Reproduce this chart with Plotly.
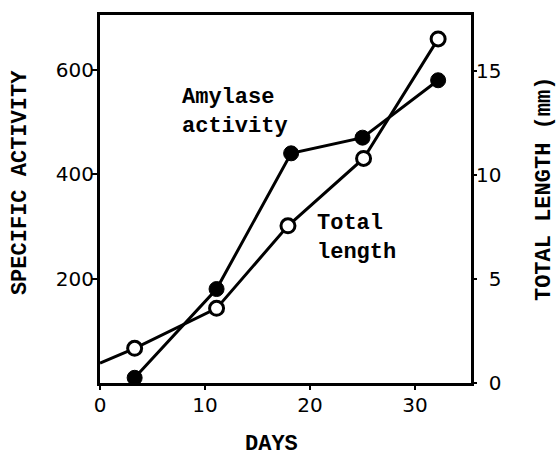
import plotly.graph_objects as go

# Data
amylase_days = [3.3, 11.1, 18.2, 25.0, 32.2]
amylase_activity = [10, 180, 440, 470, 580]          # specific activity (left axis)

length_days = [0, 3.3, 11.1, 17.9, 25.1, 32.2]       # first point: line start at axis
total_length = [0.96, 1.67, 3.59, 7.56, 10.8, 16.55]  # mm (right axis)
length_marker_visible = [0, 1, 1, 1, 1, 1]

x_ticks = [0, 10, 20, 30]
left_ticks = [200, 400, 600]
right_ticks = [0, 5, 10, 15]
right_ticktext = ["\u20070", "\u20075", "10", "15"]

TXT = dict(family="Liberation Mono, Courier New, monospace", size=22, color="black")
NUM = dict(family="DejaVu Sans, sans-serif", size=20, color="black")

fig = go.Figure()

fig.add_trace(go.Scatter(
    x=length_days, y=total_length, yaxis="y2", mode="lines+markers",
    line=dict(color="black", width=3),
    marker=dict(size=14, color="white", opacity=length_marker_visible,
                line=dict(color="black", width=3)),
    showlegend=False, cliponaxis=False,
))
fig.add_trace(go.Scatter(
    x=amylase_days, y=amylase_activity, mode="lines+markers",
    line=dict(color="black", width=3),
    marker=dict(size=15, color="black", line=dict(color="black", width=1)),
    showlegend=False, cliponaxis=False,
))

fig.update_layout(
    width=557, height=456,
    margin=dict(l=100, r=86, t=13, b=73),
    paper_bgcolor="white", plot_bgcolor="white",
    xaxis=dict(range=[0, 35.33], tickvals=x_ticks, ticks="outside", ticklen=4,
               tickwidth=2, tickcolor="black", showline=True, linewidth=3,
               linecolor="black", mirror=True, showgrid=False, zeroline=False,
               tickfont=NUM, ticklabelstandoff=-2),
    xaxis2=dict(range=[0, 35.33], overlaying="x", side="top", tickvals=[10, 20, 30],
                ticks="inside", ticklen=5, tickwidth=2, tickcolor="black",
                showticklabels=False, showline=False, showgrid=False, zeroline=False),
    yaxis=dict(range=[0, 705], tickvals=left_ticks, ticks="outside", ticklen=5,
               tickwidth=2, tickcolor="black", showline=True, linewidth=3,
               linecolor="black", mirror=True, showgrid=False, zeroline=False,
               tickfont=NUM, ticklabelstandoff=-6),
    yaxis2=dict(range=[0, 17.7], overlaying="y", side="right", tickvals=right_ticks,
                ticktext=right_ticktext, ticks="outside", ticklen=5, tickwidth=2,
                tickcolor="black", showline=False, showgrid=False, zeroline=False,
                tickfont=NUM, ticklabelstandoff=-5),
)

def px_to_paper(px, py):
    return (px - 100) / 371.0, (383 - py) / 370.0

annos = [
    ("SPECIFIC ACTIVITY", 20, 182, -90, "center", "middle"),
    ("TOTAL LENGTH (mm)", 544, 188, -90, "center", "middle"),
    ("DAYS", 271, 445, 0, "center", "middle"),
    ("Amylase<br>activity", 180, 111, 0, "left", "middle"),
    ("Total<br>length", 315, 237, 0, "left", "middle"),
]
for text, px, py, ang, xa, ya in annos:
    x, y = px_to_paper(px, py)
    fig.add_annotation(text=f"<b>{text}</b>", x=x, y=y, xref="paper", yref="paper",
                       showarrow=False, textangle=ang, xanchor=xa, yanchor=ya,
                       align="left", font=TXT)

fig.write_html("out.html")
